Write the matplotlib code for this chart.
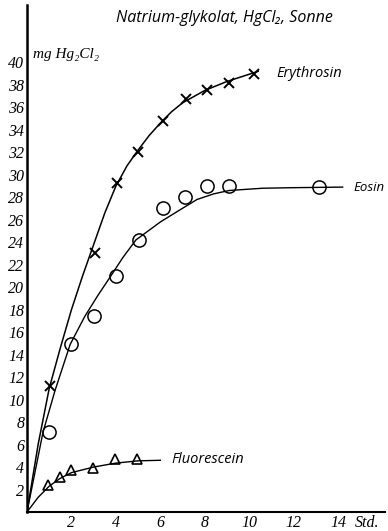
import matplotlib.pyplot as plt

# measured points (hours, mg Hg2Cl2)
ery_t = [1.04, 3.06, 4.05, 5.0, 6.1, 7.15, 8.1, 9.1, 10.2]
ery_y = [11.2, 23.0, 29.3, 32.0, 34.8, 36.7, 37.5, 38.2, 39.0]
eos_t = [1.0, 2.0, 3.0, 4.0, 5.05, 6.1, 7.1, 8.1, 9.1, 13.15]
eos_y = [7.1, 14.9, 17.4, 21.0, 24.2, 27.0, 28.0, 29.0, 29.0, 28.9]
flu_t = [0.95, 1.5, 2.0, 2.95, 3.95, 4.95]
flu_y = [2.4, 3.1, 3.7, 3.9, 4.7, 4.7]

# hand drawn curves
ery_ct = [0, 0.5, 1.0, 1.5, 2.0, 2.5, 3.0, 3.5, 4.0, 4.5, 5.0, 5.5, 6.0, 6.5, 7.0, 8.0, 9.0, 10.4]
ery_cy = [0, 6.0, 11.0, 14.6, 18.0, 21.0, 23.8, 26.6, 29.0, 30.8, 32.2, 33.5, 34.6, 35.6, 36.4, 37.5, 38.3, 39.2]
eos_ct = [0, 0.72, 1.26, 1.94, 2.6, 3.2, 3.74, 4.3, 4.9, 6.0, 6.9, 7.65, 8.4, 9.1, 10.6, 12.0, 14.2]
eos_cy = [0, 7.1, 10.8, 14.9, 17.4, 19.3, 20.9, 22.6, 24.2, 25.8, 26.9, 27.8, 28.3, 28.6, 28.8, 28.85, 28.9]
flu_ct = [0, 0.5, 1.0, 1.5, 2.0, 3.0, 4.0, 5.0, 6.0]
flu_cy = [0, 1.3, 2.3, 3.0, 3.5, 4.0, 4.35, 4.55, 4.6]

serif = ['Liberation Serif', 'DejaVu Serif']
sans = ['Open Sans', 'DejaVu Sans']

fig = plt.figure(figsize=(3.88, 5.31), dpi=100)
ax = fig.add_axes([0.0696, 0.0358, 0.9224, 0.9548])

ax.plot(ery_ct, ery_cy, color='black', lw=1.1)
ax.plot(eos_ct, eos_cy, color='black', lw=1.0)
ax.plot(flu_ct, flu_cy, color='black', lw=1.0)

ax.plot(ery_t, ery_y, 'x', color='black', ms=6.5, mew=1.4)
ax.plot(eos_t, eos_y, 'o', mfc='none', mec='black', ms=9.5, mew=1.1)
ax.plot(flu_t, flu_y, '^', mfc='none', mec='black', ms=6.5, mew=1.2)

ax.set_xlim(0, 16.1)
ax.set_ylim(0, 45.1)
ax.set_xticks(range(2, 16, 2))
ax.set_yticks(range(2, 42, 2))
for lab in ax.get_xticklabels() + ax.get_yticklabels():
    lab.set_family(serif)
    lab.set_style('italic')
    lab.set_fontsize(11.5)
ax.tick_params(length=0, pad=2)
ax.spines['top'].set_visible(False)
ax.spines['right'].set_visible(False)
ax.spines['left'].set_linewidth(1.8)
ax.spines['bottom'].set_linewidth(1.5)

ax.text(14.75, -0.95, 'Std.', family=serif, style='italic', fontsize=11.5, va='center', ha='left')
ax.text(0.25, 40.7, 'mg Hg₂Cl₂', family=serif, style='italic', fontsize=11, va='center')
ax.text(4.0, 43.9, 'Natrium-glykolat, HgCl₂, Sonne', family=sans, style='italic', fontsize=11.5, va='center')
ax.text(11.2, 39.0, 'Erythrosin', family=sans, style='italic', fontsize=10.5, va='center')
ax.text(14.7, 28.9, 'Eosin', family=sans, style='italic', fontsize=9.5, va='center')
ax.text(6.5, 4.7, 'Fluorescein', family=sans, style='italic', fontsize=10.5, va='center')

plt.savefig('out.png')
